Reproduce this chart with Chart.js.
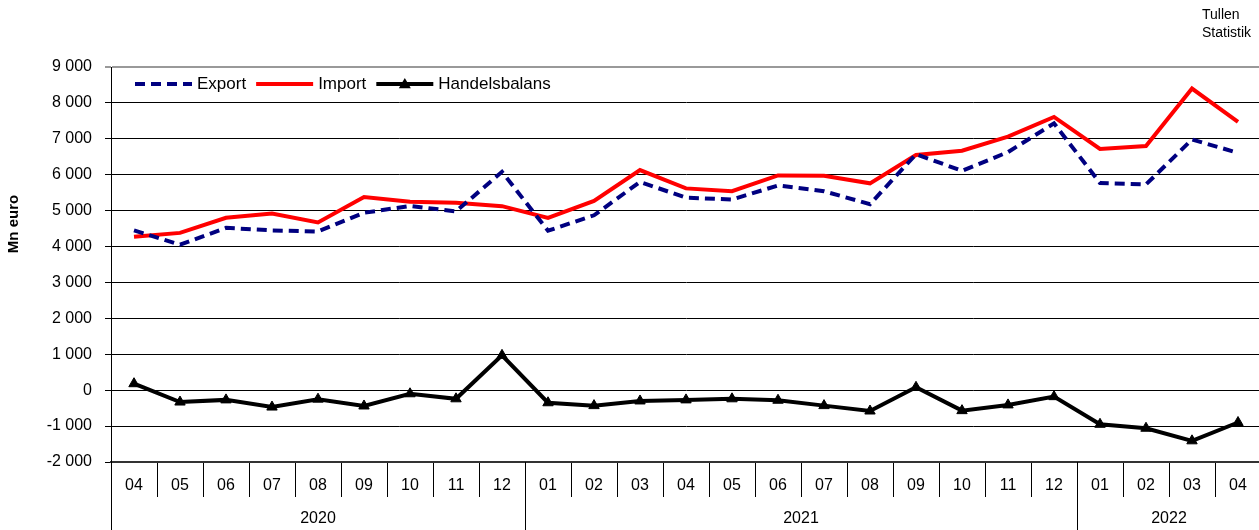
<!DOCTYPE html>
<html>
<head>
<meta charset="utf-8">
<script src="https://cdn.jsdelivr.net/npm/chart.js@4.4.1/dist/chart.umd.min.js"></script>
<style>
  html, body { margin: 0; padding: 0; background: #fff; overflow: hidden; }
  #wrap { width: 1261px; height: 530px; }
</style>
</head>
<body>
<div id="wrap"><canvas id="tradeChart" width="1261" height="530"></canvas></div>

<script>
// data (Mn euro)
const months = ['04','05','06','07','08','09','10','11','12',
                '01','02','03','04','05','06','07','08','09','10','11','12',
                '01','02','03','04'];
const years = ['2020','2020','2020','2020','2020','2020','2020','2020','2020',
               '2021','2021','2021','2021','2021','2021','2021','2021','2021','2021','2021','2021',
               '2022','2022','2022','2022'];
const exportValues = [4450, 4050, 4520, 4450, 4420, 4940, 5130, 4980, 6080,
                      4440, 4870, 5800, 5360, 5310, 5700, 5540, 5180, 6570, 6110, 6630, 7430,
                      5770, 5730, 6980, 6610];
const importValues = [4270, 4380, 4800, 4920, 4670, 5380, 5245, 5220, 5125,
                      4800, 5270, 6130, 5620, 5540, 5980, 5970, 5760, 6550, 6670, 7060, 7610,
                      6720, 6800, 8400, 7470];
const balanceValues = [180, -330, -270, -470, -250, -440, -100, -240, 970,
                       -350, -430, -300, -270, -240, -280, -430, -580, 80, -570, -410, -180,
                       -950, -1060, -1410, -900];
const yMin = -2000, yMax = 9000, yStep = 1000;
const yTitle = 'Mn euro';
const sourceLines = ['Tullen', 'Statistik'];

const FONT = '"Liberation Sans", Arial, sans-serif';
Chart.defaults.font.family = FONT;
Chart.defaults.color = '#000';

// "9 000", "-1 000"
function fmt(v) {
    const s = Math.abs(v).toString().replace(/\B(?=(\d{3})+(?!\d))/g, ' ');
    return (v < 0 ? '-' : '') + s;
}

// year row under the month labels
const yearRow = {
    id: 'yearRow',
    afterDraw(chart) {
        const ctx = chart.ctx, x = chart.scales.x, area = chart.chartArea;
        const half = (x.getPixelForValue(1) - x.getPixelForValue(0)) / 2;
        ctx.save();
        ctx.strokeStyle = '#000';
        ctx.lineWidth = 1;
        ctx.font = '16px ' + FONT;
        ctx.fillStyle = '#000';
        ctx.textAlign = 'center';
        ctx.textBaseline = 'middle';
        let start = 0;
        for (let i = 0; i <= years.length; i++) {
            if (i === years.length || years[i] !== years[start]) {
                const x0 = x.getPixelForValue(start) - half;
                const x1 = x.getPixelForValue(i - 1) + half;
                ctx.beginPath();
                ctx.moveTo(Math.round(x0) + 0.5, area.bottom);
                ctx.lineTo(Math.round(x0) + 0.5, chart.height);
                ctx.stroke();
                ctx.fillText(years[start], (x0 + x1) / 2, 519);
                start = i;
            }
        }
        ctx.restore();
    }
};

// legend drawn inside the plot
const innerLegend = {
    id: 'innerLegend',
    afterDraw(chart) {
        const ctx = chart.ctx;
        let x = chart.chartArea.left + 24;
        const y = 84;
        ctx.save();
        ctx.font = '17px ' + FONT;
        ctx.textBaseline = 'middle';
        chart.data.datasets.forEach(ds => {
            ctx.strokeStyle = ds.borderColor;
            ctx.lineWidth = ds.borderWidth;
            ctx.setLineDash(ds.borderDash || []);
            ctx.beginPath();
            ctx.moveTo(x, y);
            ctx.lineTo(x + 57, y);
            ctx.stroke();
            ctx.setLineDash([]);
            if (ds.pointStyle === 'triangle') {
                const cx = x + 28.5, r = 6;
                ctx.fillStyle = ds.pointBackgroundColor;
                ctx.beginPath();
                ctx.moveTo(cx, y - r);
                ctx.lineTo(cx + r, y + r * 0.7);
                ctx.lineTo(cx - r, y + r * 0.7);
                ctx.closePath();
                ctx.fill();
            }
            ctx.fillStyle = '#000';
            ctx.fillText(ds.label, x + 62, y);
            x += 62 + ctx.measureText(ds.label).width + 10;
        });
        ctx.restore();
    }
};

// axis title and source note
const extraText = {
    id: 'extraText',
    afterDraw(chart) {
        const ctx = chart.ctx;
        ctx.save();
        ctx.fillStyle = '#000';
        ctx.font = '14px ' + FONT;
        ctx.textBaseline = 'middle';
        sourceLines.forEach((t, i) => ctx.fillText(t, 1202, 15 + i * 18));
        ctx.translate(14, 224);
        ctx.rotate(-Math.PI / 2);
        ctx.font = 'bold 15px ' + FONT;
        ctx.textAlign = 'center';
        ctx.fillText(yTitle, 0, 0);
        ctx.restore();
    }
};

new Chart(document.getElementById('tradeChart'), {
    type: 'line',
    data: {
        labels: months,
        datasets: [
            {
                label: 'Export',
                data: exportValues,
                borderColor: '#000080',
                borderWidth: 4,
                borderDash: [10, 6],
                pointRadius: 0,
                tension: 0
            },
            {
                label: 'Import',
                data: importValues,
                borderColor: '#ff0000',
                borderWidth: 4,
                pointRadius: 0,
                tension: 0
            },
            {
                label: 'Handelsbalans',
                data: balanceValues,
                borderColor: '#000',
                borderWidth: 4,
                pointStyle: 'triangle',
                pointRadius: 6,
                pointBackgroundColor: '#000',
                pointBorderColor: '#000',
                pointBorderWidth: 1,
                tension: 0
            }
        ]
    },
    options: {
        responsive: false,
        animation: false,
        layout: { autoPadding: false, padding: { top: 67, left: 0, right: 0, bottom: 0 } },
        plugins: { legend: { display: false }, tooltip: { enabled: false } },
        scales: {
            x: {
                offset: true,
                afterFit(scale) {
                    scale.height = 68;
                    scale.paddingLeft = 0;
                    scale.paddingRight = 0;
                },
                grid: {
                    offset: true,
                    drawOnChartArea: false,
                    drawTicks: true,
                    tickLength: 35,
                    color: '#000',
                    lineWidth: 1
                },
                border: { display: true, color: '#333', width: 2 },
                ticks: { font: { size: 16 }, color: '#000', padding: -21, maxRotation: 0, autoSkip: false }
            },
            y: {
                min: yMin,
                max: yMax,
                afterFit(scale) {
                    scale.width = 111;
                    scale.paddingTop = 0;
                    scale.paddingBottom = 0;
                },
                grid: {
                    color: c => (c.tick && c.tick.value === yMax) ? '#999' : '#000',
                    lineWidth: c => (c.tick && c.tick.value === yMax) ? 2 : 1,
                    tickLength: 6
                },
                border: { display: true, color: '#000', width: 1 },
                ticks: {
                    stepSize: yStep,
                    font: { size: 16 },
                    color: '#000',
                    padding: 13,
                    callback: v => fmt(v)
                }
            }
        }
    },
    plugins: [yearRow, innerLegend, extraText]
});
</script>
</body>
</html>
